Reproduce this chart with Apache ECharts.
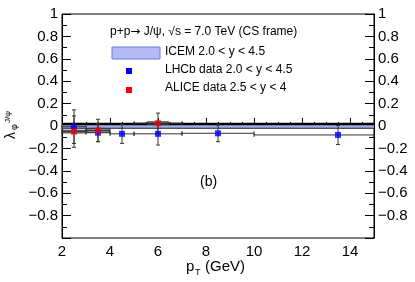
<!DOCTYPE html>
<html>
<head>
<meta charset="utf-8">
<script src="https://cdn.jsdelivr.net/npm/echarts@6/dist/echarts.min.js"></script>
<style>html,body{margin:0;padding:0;background:#fff}#c{width:415px;height:282px}</style>
</head>
<body>
<div id="c"></div>
<script>
// ICEM band (2.0 < y < 4.5)
const icemX = [2, 4, 6, 8, 10, 12, 15];
const icemLow = [-0.02, -0.02, -0.02, -0.02, -0.02, -0.02, -0.02];
const icemHigh = [0.018, 0.018, 0.018, 0.018, 0.018, 0.018, 0.018];
// LHCb data 2.0 < y < 4.5
const lhcbX = [2.5, 3.5, 4.5, 6, 8.5, 13.5];
const lhcbY = [-0.006, -0.06, -0.07, -0.07, -0.065, -0.08];
const lhcbErr = [0.15, 0.08, 0.085, 0.1, 0.075, 0.085];
const lhcbXlo = [2, 3, 4, 5, 7, 10];
const lhcbXhi = [3, 4, 5, 7, 10, 15];
// ALICE data 2.5 < y < 4
const aliceX = [2.5, 3.5, 6];
const aliceY = [-0.05, -0.04, 0.025];
const aliceErr = [0.14, 0.1, 0.09];
const aliceXlo = [2, 3, 5];
const aliceXhi = [3, 4, 7];
const aliceSysHalfW = [0.5, 0.47, 0.45];
const aliceSys = [0.012, 0.015, 0.012];
// axis ticks
const xTicks = [2, 4, 6, 8, 10, 12, 14];
const yTicks = [-0.8, -0.6, -0.4, -0.2, 0, 0.2, 0.4, 0.6, 0.8, 1];

const FONT = 'Liberation Sans, Arial, sans-serif';
const chart = echarts.init(document.getElementById('c'), null, {renderer: 'canvas'});

function fmtY(v) {
  const r = Math.round(v * 10) / 10;
  if (r === 0) return '0';
  return r < 0 ? '\u2212' + (-r) : '' + r;
}

function errBars(xs, ys, es, xlo, xhi, color) {
  return {
    type: 'custom',
    z: 5,
    data: xs.map((x, i) => [x, ys[i]]),
    renderItem: function (params, api) {
      const i = params.dataIndex;
      const x = xs[i], y = ys[i], e = es[i];
      const t = api.coord([x, y + e]);
      const b = api.coord([x, y - e]);
      const l = api.coord([xlo[i], y]);
      const r = api.coord([xhi[i], y]);
      const st = {stroke: color, lineWidth: 1};
      const cw = 2;
      return {type: 'group', children: [
        {type: 'line', shape: {x1: t[0], y1: t[1], x2: b[0], y2: b[1]}, style: st},
        {type: 'line', shape: {x1: t[0] - cw, y1: t[1], x2: t[0] + cw, y2: t[1]}, style: st},
        {type: 'line', shape: {x1: b[0] - cw, y1: b[1], x2: b[0] + cw, y2: b[1]}, style: st},
        {type: 'line', shape: {x1: l[0], y1: l[1], x2: r[0], y2: r[1]}, style: st},
        {type: 'line', shape: {x1: l[0], y1: l[1] - cw, x2: l[0], y2: l[1] + cw}, style: st},
        {type: 'line', shape: {x1: r[0], y1: r[1] - cw, x2: r[0], y2: r[1] + cw}, style: st}
      ]};
    }
  };
}

const option = {
  animation: false,
  grid: {left: 62, right: 41, top: 14, bottom: 44, show: true, borderColor: '#000', borderWidth: 1, containLabel: false},
  xAxis: [
    {type: 'value', min: 2, max: 15, interval: 2, position: 'bottom',
      axisLine: {show: true, lineStyle: {color: '#000'}},
      axisTick: {show: true, inside: true, length: 8, lineStyle: {color: '#000'}},
      axisLabel: {show: true, color: '#000', fontSize: 15, fontFamily: FONT, margin: 6, showMaxLabel: false,
        formatter: v => xTicks.indexOf(v) >= 0 ? '' + v : ''},
      splitLine: {show: false}},
    {type: 'value', min: 2, max: 15, interval: 0.5, position: 'bottom',
      axisLine: {show: false},
      axisTick: {show: true, inside: true, length: 4, lineStyle: {color: '#000'}},
      axisLabel: {show: false}, splitLine: {show: false}}
  ],
  yAxis: [
    {type: 'value', min: -1, max: 1, interval: 0.2, position: 'left',
      axisLine: {show: true, lineStyle: {color: '#000'}},
      axisTick: {show: true, inside: true, length: 9, lineStyle: {color: '#000'}},
      minorTick: {show: true, splitNumber: 2, length: 5, lineStyle: {color: '#000'}},
      axisLabel: {show: true, color: '#000', fontSize: 15, fontFamily: FONT, margin: 4, showMinLabel: false, formatter: fmtY},
      splitLine: {show: false}},
    {type: 'value', min: -1, max: 1, interval: 0.2, position: 'right',
      axisLine: {show: true, lineStyle: {color: '#000'}},
      axisTick: {show: true, inside: true, length: 9, lineStyle: {color: '#000'}},
      minorTick: {show: true, splitNumber: 2, length: 5, lineStyle: {color: '#000'}},
      axisLabel: {show: true, color: '#000', fontSize: 15, fontFamily: FONT, margin: 4, showMinLabel: false, formatter: fmtY},
      splitLine: {show: false}}
  ],
  series: [
    {
      type: 'custom', z: 2,
      data: icemX.slice(0, -1).map((x, i) => [x, icemLow[i], icemHigh[i]]),
      renderItem: function (params, api) {
        const i = params.dataIndex;
        const p1 = api.coord([icemX[i], icemHigh[i]]);
        const p2 = api.coord([icemX[i + 1], icemHigh[i + 1]]);
        const p3 = api.coord([icemX[i + 1], icemLow[i + 1]]);
        const p4 = api.coord([icemX[i], icemLow[i]]);
        return {type: 'polygon', shape: {points: [p1, p2, p3, p4]}, style: {fill: '#a3acf2', stroke: null}};
      }
    },
    {type: 'line', z: 3, data: icemX.map((x, i) => [x, icemHigh[i]]), symbol: 'none',
      lineStyle: {color: '#000', width: 2.5}},
    {type: 'line', z: 3, data: icemX.map((x, i) => [x, icemLow[i]]), symbol: 'none',
      lineStyle: {color: '#222', width: 1.2}},
    {
      type: 'custom', z: 4,
      data: aliceX.map((x, i) => [x, aliceY[i]]),
      renderItem: function (params, api) {
        const i = params.dataIndex;
        const a = api.coord([aliceX[i] - aliceSysHalfW[i], aliceY[i] + aliceSys[i]]);
        const b = api.coord([aliceX[i] + aliceSysHalfW[i], aliceY[i] - aliceSys[i]]);
        return {type: 'rect', shape: {x: a[0], y: a[1], width: b[0] - a[0], height: b[1] - a[1]},
          style: {fill: 'rgba(70,70,70,0.45)', stroke: '#333', lineWidth: 1}};
      }
    },
    errBars(lhcbX, lhcbY, lhcbErr, lhcbXlo, lhcbXhi, '#333'),
    errBars(aliceX, aliceY, aliceErr, aliceXlo, aliceXhi, '#333'),
    {type: 'scatter', z: 6, data: lhcbX.map((x, i) => [x, lhcbY[i]]), symbol: 'rect', symbolSize: 6,
      itemStyle: {color: '#0000ff'}},
    {type: 'scatter', z: 7, data: aliceX.map((x, i) => [x, aliceY[i]]), symbol: 'rect', symbolSize: 6,
      itemStyle: {color: '#ff0000'}}
  ],
  graphic: [
    {type: 'text', left: 110, top: 26, style: {text: 'p+p{a|\u2192} J/\u03c8, \u221as = 7.0 TeV (CS frame)', font: '12px ' + FONT, fill: '#000',
      rich: {a: {fontFamily: 'DejaVu Sans', fontSize: 12, fill: '#000'}}}},
    {type: 'rect', shape: {x: 112, y: 47, width: 48, height: 12}, style: {fill: '#b3bbf6', stroke: '#6a76e6', lineWidth: 1}},
    {type: 'text', left: 165, top: 46, style: {text: 'ICEM 2.0 < y < 4.5', font: '12px ' + FONT, fill: '#000'}},
    {type: 'rect', shape: {x: 126, y: 68, width: 6, height: 6}, style: {fill: '#0000ff'}},
    {type: 'text', left: 165, top: 64, style: {text: 'LHCb data 2.0 < y < 4.5', font: '12px ' + FONT, fill: '#000'}},
    {type: 'rect', shape: {x: 126, y: 87, width: 6, height: 6}, style: {fill: '#ff0000'}},
    {type: 'text', left: 165, top: 82, style: {text: 'ALICE data 2.5 < y < 4', font: '12px ' + FONT, fill: '#000'}},
    {type: 'text', left: 200, top: 175, style: {text: '(b)', font: '14px ' + FONT, fill: '#000'}},
    {type: 'text', x: 186, y: 259, style: {text: 'p', font: '15px ' + FONT, fill: '#000'}},
    {type: 'text', x: 195, y: 268, style: {text: 'T', font: '9px ' + FONT, fill: '#000'}},
    {type: 'text', x: 205, y: 259, style: {text: '(GeV)', font: '15px ' + FONT, fill: '#000'}},
    {type: 'group', x: 18, y: 139, rotation: Math.PI / 2, children: [
      {type: 'text', x: 0, y: -14, style: {text: '\u03bb', font: '14px ' + FONT, fill: '#000'}},
      {type: 'text', x: 9, y: -8, style: {text: '\u03c6', font: '9px ' + FONT, fill: '#000'}},
      {type: 'text', x: 16, y: -14, style: {text: 'J/\u03c8', font: '8px ' + FONT, fill: '#000'}}
    ]}
  ]
};
chart.setOption(option);
</script>
</body>
</html>
